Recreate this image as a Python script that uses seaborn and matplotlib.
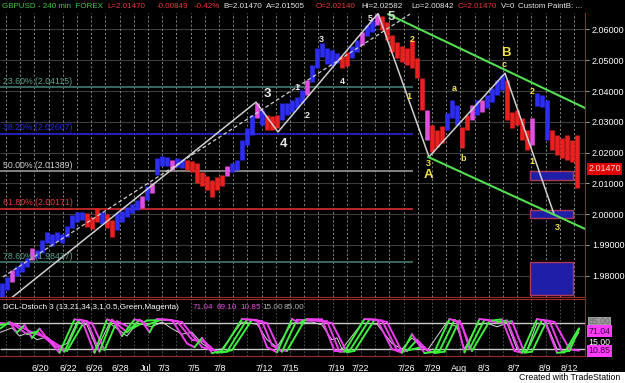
import numpy as np
import pandas as pd
import matplotlib
matplotlib.use("Agg")
import matplotlib.pyplot as plt
import matplotlib.transforms as mtransforms
from matplotlib.patches import Rectangle
import seaborn as sns

sns.set_style("dark", {"axes.facecolor": "black", "figure.facecolor": "black"})
plt.rcParams['font.family'] = ['Liberation Sans', 'DejaVu Sans']

# ---------------- data ----------------
bar_high = [
    1.9776, 1.9796, 1.9819, 1.9832, 1.9845, 1.9857, 1.9890, 1.9883, 1.9916, 1.9942,
    1.9935, 1.9942, 1.9935, 1.9961, 1.9997, 2.0007, 2.0007, 2.0004, 1.9991, 2.0020,
    2.0007, 2.0000, 1.9981, 2.0004, 2.0010, 2.0023, 2.0033, 2.0046, 2.0059, 2.0091,
    2.0101, 2.0182, 2.0189, 2.0186, 2.0176, 2.0182, 2.0179, 2.0176, 2.0173, 2.0166,
    2.0137, 2.0124, 2.0111, 2.0121, 2.0127, 2.0156, 2.0166, 2.0176, 2.0241, 2.0280,
    2.0322, 2.0361, 2.0338, 2.0322, 2.0319, 2.0322, 2.0361, 2.0361, 2.0371, 2.0381,
    2.0403, 2.0436, 2.0485, 2.0540, 2.0556, 2.0540, 2.0533, 2.0524, 2.0514, 2.0527,
    2.0546, 2.0566, 2.0592, 2.0615, 2.0631, 2.0650, 2.0644, 2.0624, 2.0582, 2.0559,
    2.0546, 2.0540, 2.0566, 2.0507, 2.0442, 2.0338, 2.0290, 2.0273, 2.0286, 2.0329,
    2.0371, 2.0355, 2.0283, 2.0322, 2.0355, 2.0371, 2.0371, 2.0387, 2.0410, 2.0436,
    2.0452, 2.0436, 2.0332, 2.0338, 2.0312, 2.0273, 2.0312, 2.0393, 2.0387, 2.0371,
    2.0273, 2.0257, 2.0247, 2.0257, 2.0241, 2.0258]
bar_low = [
    1.9731, 1.9753, 1.9780, 1.9799, 1.9812, 1.9828, 1.9851, 1.9857, 1.9874, 1.9906,
    1.9896, 1.9913, 1.9906, 1.9926, 1.9955, 1.9974, 1.9981, 1.9958, 1.9952, 1.9974,
    1.9968, 1.9955, 1.9926, 1.9948, 1.9974, 1.9991, 2.0004, 2.0013, 2.0020, 2.0046,
    2.0069, 2.0127, 2.0156, 2.0156, 2.0143, 2.0153, 2.0150, 2.0143, 2.0137, 2.0101,
    2.0091, 2.0078, 2.0056, 2.0078, 2.0091, 2.0124, 2.0137, 2.0143, 2.0176, 2.0225,
    2.0257, 2.0312, 2.0290, 2.0273, 2.0273, 2.0280, 2.0306, 2.0322, 2.0332, 2.0345,
    2.0361, 2.0387, 2.0429, 2.0475, 2.0511, 2.0488, 2.0481, 2.0491, 2.0475, 2.0481,
    2.0507, 2.0527, 2.0550, 2.0579, 2.0592, 2.0615, 2.0598, 2.0566, 2.0527, 2.0507,
    2.0494, 2.0485, 2.0475, 2.0442, 2.0338, 2.0241, 2.0202, 2.0218, 2.0231, 2.0273,
    2.0312, 2.0290, 2.0215, 2.0273, 2.0306, 2.0322, 2.0332, 2.0345, 2.0364, 2.0387,
    2.0403, 2.0306, 2.0280, 2.0290, 2.0241, 2.0208, 2.0225, 2.0351, 2.0348, 2.0241,
    2.0208, 2.0192, 2.0182, 2.0176, 2.0169, 2.0084]
bar_paint = ("BBMBBBMBBB" "BBBBBBBRRR" "BRRBBBBBMB" "MBBBMBBRRR" "RRRRRMBBBB"
             "BMBRRRBBBB" "BMBBBBBBRR" "BBMBBMRRRR" "RRRRRMRRRB" "BBRRMBMBBB"
             "BRRRRRMBBB" "RRRRRR")

date_labels = ["6/20", "6/22", "6/26", "6/28", "Jul", "7/3", "7/5", "7/8", "7/12", "7/15",
               "7/19", "7/22", "7/26", "7/29", "Aug", "8/3", "8/7", "8/9", "8/12"]
date_pos = [7.6, 13.2, 18.4, 23.6, 28.8, 32.4, 38.4, 43.6, 52.4, 57.6,
            66.8, 71.6, 80.8, 86.0, 91.4, 96.4, 102.4, 108.6, 113.4]

price_ticks = [1.98, 1.99, 2.00, 2.01, 2.02, 2.03, 2.04, 2.05, 2.06]

fib_pct = [23.6, 38.2, 50.0, 61.8, 78.6]
fib_price = [2.04115, 2.02607, 2.01389, 2.00171, 1.98437]

wave_x = [-0.4, 50.8, 55.2, 75.2, 85.4, 100.6, 110.4]
wave_y = [1.9698, 2.0364, 2.0267, 2.0652, 2.0186, 2.0458, 2.0000]
dash_x = [0.2, 81.6]
dash_y = [1.9796, 2.0650]
chan_up_x = [77.2, 116.6]
chan_up_y = [2.0650, 2.0345]
chan_lo_x = [85.2, 116.6]
chan_lo_y = [2.0186, 1.9952]

box_x = [105.6, 114.2]
box_lo = [2.0111, 1.9987, 1.9737]
box_hi = [2.0140, 2.0013, 1.9845]

wave_text = ["3", "4", "1", "2", "3", "4", "5", "5",
             "2", "1", "3", "A", "a", "b", "c", "B", "2", "1", "3"]
wave_tx = [53.0, 56.2, 59.0, 61.0, 63.8, 68.0, 73.6, 77.8,
           82.0, 81.4, 85.2, 85.2, 90.4, 92.2, 100.4, 100.8, 106.0, 106.0, 111.0]
wave_ty = [2.0391, 2.0228, 2.0410, 2.0319, 2.0569, 2.0432, 2.0637, 2.0641,
           2.0569, 2.0381, 2.0163, 2.0127, 2.0407, 2.0182, 2.0485, 2.0524, 2.0397, 2.0170, 1.9958]
wave_big = [1, 1, 0, 0, 0, 0, 0, 1, 0, 0, 0, 1, 0, 0, 0, 1, 0, 0, 0]
wave_yel = [0, 0, 0, 0, 0, 0, 0, 0, 1, 1, 1, 1, 1, 1, 1, 1, 1, 1, 1]

osc_fast = [(-0.4, 70), (1.5, 88), (3, 60), (4.5, 80), (6, 45), (7.5, 70), (9.5, 35), (11.5, 5),
            (14.5, 95), (16, 92), (18.5, 5), (21, 95), (22.5, 88), (24, 50), (26.5, 95), (28, 90),
            (29.5, 60), (31, 96), (34, 93), (37, 30), (38.5, 20), (40, 45), (42, 4), (44, 10),
            (48, 96), (51, 93), (53, 20), (55, 6), (58, 96), (59.5, 85), (61, 96), (64, 95),
            (66.5, 10), (68.5, 8), (72.5, 96), (75, 94), (78, 15), (80, 5), (82, 55), (84.5, 4),
            (86.5, 8), (89.5, 96), (91, 90), (92.5, 6), (95.5, 96), (98, 92), (100, 95), (102.5, 10),
            (104, 5), (107, 96), (108.5, 92), (111, 5), (112.5, 6), (115.4, 71.04)]
osc_mid = [(-0.4, 80), (2, 85), (5, 55), (7, 62), (10, 30), (12.5, 8), (15.5, 94), (17, 90),
           (19.5, 8), (22, 94), (25, 60), (27.5, 94), (29, 80), (32, 95), (35, 90), (38, 40),
           (40.5, 35), (43, 5), (45, 8), (49, 95), (52, 90), (54, 25), (56, 8), (59, 94),
           (62, 92), (65, 90), (67.5, 8), (69.5, 10), (73.5, 95), (76, 92), (79, 12), (81, 10),
           (83, 40), (85.5, 6), (87.5, 10), (90.5, 94), (92, 80), (93.5, 15), (96.5, 94), (99, 88),
           (101, 92), (103.5, 8), (105, 10), (108, 94), (109.5, 90), (112, 8), (113.5, 10), (115.4, 69.10)]
osc_slow = [(-0.4, 85), (3, 80), (6, 60), (9, 45), (13, 10), (16.5, 90), (18, 85), (20.5, 12),
            (23, 90), (26, 70), (29, 92), (33, 94), (36, 88), (40, 20), (44, 6), (46, 12),
            (50, 94), (53, 85), (55.5, 12), (57, 10), (60.5, 92), (63, 92), (66, 85), (69, 6),
            (70.5, 10), (74.5, 94), (77, 88), (80, 8), (84, 20), (86.5, 4), (88.5, 8), (91.5, 92),
            (94, 10), (97.5, 90), (100, 86), (102, 90), (104.5, 5), (106, 8), (109, 92), (110.5, 88),
            (113.5, 14), (115.4, 10.85)]
osc_white_x = [-0.4, 2, 3.5, 5, 7, 9, 11, 13, 15, 17, 19, 21.5, 23, 25, 27, 30, 32, 34, 36, 38,
               40, 42, 44, 48, 51, 53, 55, 58, 62, 64, 66, 67, 68, 72, 75, 78, 80, 82, 85, 89,
               91, 92.5, 95, 97, 99, 101, 103, 105, 107, 109, 111, 113, 115.4]
osc_white_v = [60, 72, 50, 58, 40, 48, 20, 30, 88, 80, 15, 85, 70, 50, 85, 75, 88, 70, 55, 60,
               30, 12, 15, 88, 82, 40, 20, 85, 88, 80, 40, 45, 15, 85, 82, 30, 15, 45, 10, 88,
               75, 15, 80, 85, 75, 85, 15, 12, 85, 80, 15, 12, 60]
osc_levels = [15, 85]
osc_title = "DCL-Dstoch 3 (13,21,34,3,1,0.5,Green,Magenta)"
osc_values = ["71.04", "69.10", "10.85", "15.00", "85.00"]

# ---------------- layout ----------------
W, H = 625, 383
fig = plt.figure(figsize=(6.25, 3.83), dpi=100, facecolor='black')


def fy(py):
    return 1 - py / H


ax = fig.add_axes([0, fy(297), 585 / W, (297 - 13) / H])
axo = fig.add_axes([0, fy(356), 585 / W, (356 - 299) / H])
XL = (-0.4, 116.6)
for a in (ax, axo):
    a.set_facecolor('black')
    a.set_xlim(*XL)
    for s in a.spines.values():
        s.set_visible(False)
    a.spines['right'].set_visible(True)
    a.spines['right'].set_color('#9a2a2a')
    a.spines['bottom'].set_visible(True)
    a.spines['bottom'].set_color('#9a2a2a')
axo.spines['top'].set_visible(True)
axo.spines['top'].set_color('#9a2a2a')

ax.set_ylim(1.97306, 2.06536)
grid_x = np.arange(0.8, 116.6, 2.84)

# grids
ax.hlines(price_ticks, *XL, colors='#3c3c3c', lw=0.8, zorder=0)
ax.vlines(grid_x, 1.97306, 2.06536, colors='#9a9a9a', lw=0.6, linestyles=(0, (2.5, 2.5)), zorder=0)

# fib levels
fib_cols = ['#3e7068', '#2424c8', '#8c8c8c', '#c42a2a', '#3e7068']
fib_tcols = ['#5aa090', '#2a2ae0', '#d0d0d0', '#e83a3a', '#5aa090']
ax.hlines(fib_price, -0.4, 82.2, colors=fib_cols, lw=1.3, zorder=1)
for p, v, c in zip(fib_pct, fib_price, fib_tcols):
    ax.text(0.2, v + 0.0005, f"{p:.2f}% ({v:.5f})", color=c, fontsize=6.3,
            va='bottom', ha='left', zorder=5)

# bars
pal = {"B": "#2d2df5", "R": "#e82020", "M": "#e050e0"}
xs = np.arange(len(bar_high))
ax.vlines(xs, bar_low, bar_high, colors=[pal[c] for c in bar_paint], lw=3.3, zorder=3)

# wave lines
sns.lineplot(x=wave_x, y=wave_y, ax=ax, color='#d0d0d0', lw=1.1, sort=False, estimator=None, zorder=4)
ax.plot(dash_x, dash_y, color='#d0d0d0', lw=0.9, ls=(0, (3, 2)), zorder=4)
ax.plot(chan_up_x, chan_up_y, color='#52e052', lw=1.5, zorder=4)
ax.plot(chan_lo_x, chan_lo_y, color='#52e052', lw=1.5, zorder=4)

for lo, hi in zip(box_lo, box_hi):
    ax.add_patch(Rectangle((box_x[0], lo), box_x[1] - box_x[0], hi - lo,
                           facecolor='#1e1ea8', edgecolor='#b03a55', lw=1.0, zorder=2))

for t, x, y, big, yel in zip(wave_text, wave_tx, wave_ty, wave_big, wave_yel):
    col = '#f2e24a' if yel else '#e8e8e8'
    if t == "5" and big:
        col = '#cfe0d0'
    ax.text(x, y, t, color=col, fontsize=9.5 if big else 6.5, fontweight='bold',
            ha='center', va='center', zorder=6)

# price axis
ax.set_xticks([])
ax.set_yticks(price_ticks)
ax.yaxis.tick_right()
ax.yaxis.set_major_formatter(matplotlib.ticker.FormatStrFormatter('%.5f'))
ax.tick_params(axis='y', colors='#bbbbbb', labelcolor='white', labelsize=6.5, length=3, pad=2, width=0.6)
trans = mtransforms.blended_transform_factory(ax.transAxes, ax.transData)
ax.text(1.006, 2.0147, "2.01470", transform=trans, color='#ffd8d8', fontsize=6.5, va='center',
        ha='left', bbox=dict(boxstyle='square,pad=0.15', fc='#e00000', ec='none'))

# ---------------- oscillator ----------------
axo.set_ylim(-3.8, 150)
axo.vlines(grid_x, -3.8, 150, colors='#6a6a6a', lw=0.5, linestyles=(0, (2.5, 2.5)), zorder=0)
axo.hlines(osc_levels, *XL, colors='#c8c8c8', lw=1.0, zorder=1)

GREEN, MAG = '#3cf03c', '#f03cf0'


def draw_osc(pts, lw):
    px = [p[0] for p in pts]
    pv = [p[1] for p in pts]
    for i in range(len(px) - 1):
        c = GREEN if pv[i + 1] >= pv[i] else MAG
        axo.plot(px[i:i + 2], pv[i:i + 2], color=c, lw=lw, solid_capstyle='round', zorder=3)


sns.lineplot(x=osc_white_x, y=osc_white_v, ax=axo, color='#d8d8d8', lw=0.7, sort=False,
             estimator=None, zorder=2)
draw_osc(osc_slow, 1.4)
draw_osc(osc_mid, 1.4)
draw_osc(osc_fast, 1.4)

axo.text(0.2, 128, osc_title, color='white', fontsize=5.9, va='center', ha='left')
vx = [193, 217, 240, 262, 284]
vc = ['#e050e0', '#e050e0', '#e050e0', '#b0b0b0', '#b0b0b0']
for s, x, c in zip(osc_values, vx, vc):
    axo.text((x - 2) / 5, 128, s, color=c, fontsize=5.9, va='center', ha='left')

axo.set_yticks([])
axo.set_xticks(date_pos)
axo.set_xticklabels(date_labels)
axo.tick_params(axis='x', colors='#c03030', labelcolor='white', labelsize=6.5, length=3, pad=3, width=0.8)
transo = mtransforms.blended_transform_factory(axo.transAxes, axo.transData)
axo.text(1.006, 88, "85.00", transform=transo, color='#707070', fontsize=6.3, va='center', ha='left',
         bbox=dict(boxstyle='square,pad=0.1', fc='#9a9a9a', ec='none'))
axo.text(1.006, 63, "71.04", transform=transo, color='#3a003a', fontsize=6.3, va='center', ha='left',
         bbox=dict(boxstyle='square,pad=0.15', fc='#ff3cff', ec='none'))
axo.text(1.006, 32, "15.00", transform=transo, color='white', fontsize=6.3, va='center', ha='left')
axo.text(1.006, 10, "10.85", transform=transo, color='#3a003a', fontsize=6.3, va='center', ha='left',
         bbox=dict(boxstyle='square,pad=0.15', fc='#ff3cff', ec='none'))

# ---------------- header / footer ----------------
header = [("GBPUSD - 240 min  FOREX", 2, '#40c840'), ("L=2.01470", 107, '#e83a3a'),
          ("-0.00849", 157, '#e83a3a'), ("-0.42%", 195, '#e83a3a'), ("B=2.01470", 223, '#e8e8e8'),
          ("A=2.01505", 266, '#e8e8e8'), ("O=2.02140", 316, '#e83a3a'), ("Hi=2.02582", 361, '#e8e8e8'),
          ("Lo=2.00842", 411, '#e8e8e8'), ("C=2.01470", 458, '#e83a3a'), ("V=0", 501, '#e8e8e8'),
          ("Custom PaintB: ...", 518, '#e8e8e8')]
for s, x, c in header:
    fig.text(x / W, fy(7), s, color=c, fontsize=5.8, va='center', ha='left')

fig.patches.append(Rectangle((0, 0), 1, 11 / H, transform=fig.transFigure, facecolor='white',
                             edgecolor='none', zorder=0))
fig.text(620 / W, fy(377.5), "Created with TradeStation", color='black', fontsize=6.3,
         va='center', ha='right')

fig.savefig("out.png", dpi=100, facecolor='black')
